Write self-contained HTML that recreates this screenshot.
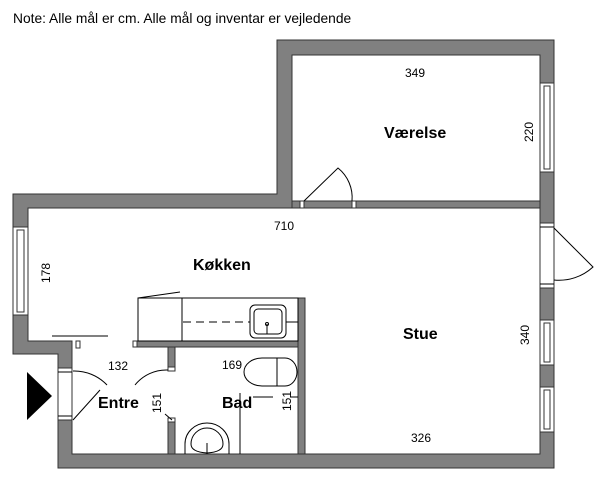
<!DOCTYPE html>
<html><head><meta charset="utf-8"><style>
html,body{margin:0;padding:0;background:#fff;}
svg{display:block;}
text{font-family:"Liberation Sans","DejaVu Sans",sans-serif;fill:#000;}
</style></head><body>
<svg width="600" height="482" viewBox="0 0 600 482" xmlns="http://www.w3.org/2000/svg">
<text x="13" y="23" font-size="13.8">Note: Alle mål er cm. Alle mål og inventar er vejledende</text>
<g fill="#808080" stroke="#333" stroke-width="1">
<path d="M277,40 H554 V468 H58 V354 H13 V194 H277 Z M292,55 V201 H540 V55 Z M28,208 V341 H72 V454 H540 V208 Z" fill-rule="evenodd"/>
<rect x="292" y="201" width="10" height="7"/>
<rect x="355" y="201" width="185" height="7"/>
<rect x="298" y="298" width="7" height="156"/>
<rect x="137" y="341" width="161" height="6"/>
<rect x="168" y="347" width="7" height="23"/>
<rect x="168" y="418" width="7" height="36"/>
</g>
<g fill="#fff" stroke="#333" stroke-width="1">
<rect x="300" y="201" width="4" height="7"/>
<rect x="352" y="201" width="4" height="7"/>
<rect x="133" y="341" width="4" height="6"/>
<rect x="76" y="341" width="4" height="7"/>
<rect x="168" y="367" width="7" height="4"/>
<rect x="168" y="418" width="7" height="4"/>
<rect x="58" y="368" width="14" height="52"/>
<rect x="540" y="223" width="14" height="65"/>
<rect x="540" y="83" width="14" height="89"/>
<rect x="544" y="86" width="6" height="83"/>
<rect x="540" y="320" width="14" height="45"/>
<rect x="544" y="323" width="6" height="39"/>
<rect x="540" y="387" width="14" height="45"/>
<rect x="544" y="390" width="6" height="39"/>
<rect x="13" y="227" width="15" height="88"/>
<rect x="17" y="230" width="7" height="82"/>
</g>
<g fill="none" stroke="#000" stroke-width="1">
<line x1="58" y1="372" x2="72" y2="372"/><line x1="58" y1="416" x2="72" y2="416"/>
<line x1="540" y1="227" x2="554" y2="227"/><line x1="540" y1="284" x2="554" y2="284"/>
<path d="M304,201 L338,168 A38,38 0 0 1 352,201"/>
<path d="M554,228 L593,267 A50,50 0 0 1 554,280"/>
<path d="M73,371 A45,45 0 0 1 107,385 M73,420 L100,390"/>
<path d="M168,370 A40,40 0 0 0 135,385 M165,414 L172,420"/>
<path d="M138,298 L180,292"/>
<line x1="52" y1="336" x2="108" y2="336"/>
<rect x="138" y="298" width="160" height="43"/>
<line x1="182" y1="298" x2="182" y2="341"/>
<line x1="183" y1="322" x2="250" y2="322" stroke-dasharray="8,5"/>
<line x1="286" y1="322" x2="298" y2="322"/>
<rect x="250" y="305" width="36" height="33" rx="5"/>
<rect x="254" y="309" width="28" height="25" rx="4"/>
<line x1="267" y1="324" x2="267" y2="334"/><circle cx="267" cy="324" r="1.5"/>
<path d="M262,358 H285 A12,14 0 0 1 285,386 H262 A18,14 0 0 1 262,358 Z"/>
<line x1="277" y1="358" x2="277" y2="386"/>
<path d="M185,454 V444 A22,21 0 0 1 229,444 V454"/>
<path d="M191,444 A16,16 0 0 1 223,444 Q223,452 207,453 Q191,452 191,444 Z"/>
<line x1="207" y1="443" x2="207" y2="454"/>
<line x1="240" y1="393" x2="240" y2="454"/>
<line x1="253" y1="397" x2="273" y2="397"/><line x1="290" y1="397" x2="298" y2="397"/>
</g>
<polygon points="27,372 52,396 27,420" fill="#000"/>
<g font-size="12">
<text x="405" y="77">349</text>
<text x="274" y="230">710</text>
<text x="108" y="370">132</text>
<text x="222" y="369">169</text>
<text x="411" y="442">326</text>
<text transform="translate(533,142) rotate(-90)">220</text>
<text transform="translate(50,283) rotate(-90)">178</text>
<text transform="translate(529,345) rotate(-90)">340</text>
<text transform="translate(161,413) rotate(-90)">151</text>
<text transform="translate(291,411) rotate(-90)">151</text>
</g>
<g font-size="16" font-weight="bold">
<text x="384" y="138">Værelse</text>
<text x="193" y="270">Køkken</text>
<text x="403" y="339">Stue</text>
<text x="98" y="408">Entre</text>
<text x="222" y="408">Bad</text>
</g>
</svg>
</body></html>
